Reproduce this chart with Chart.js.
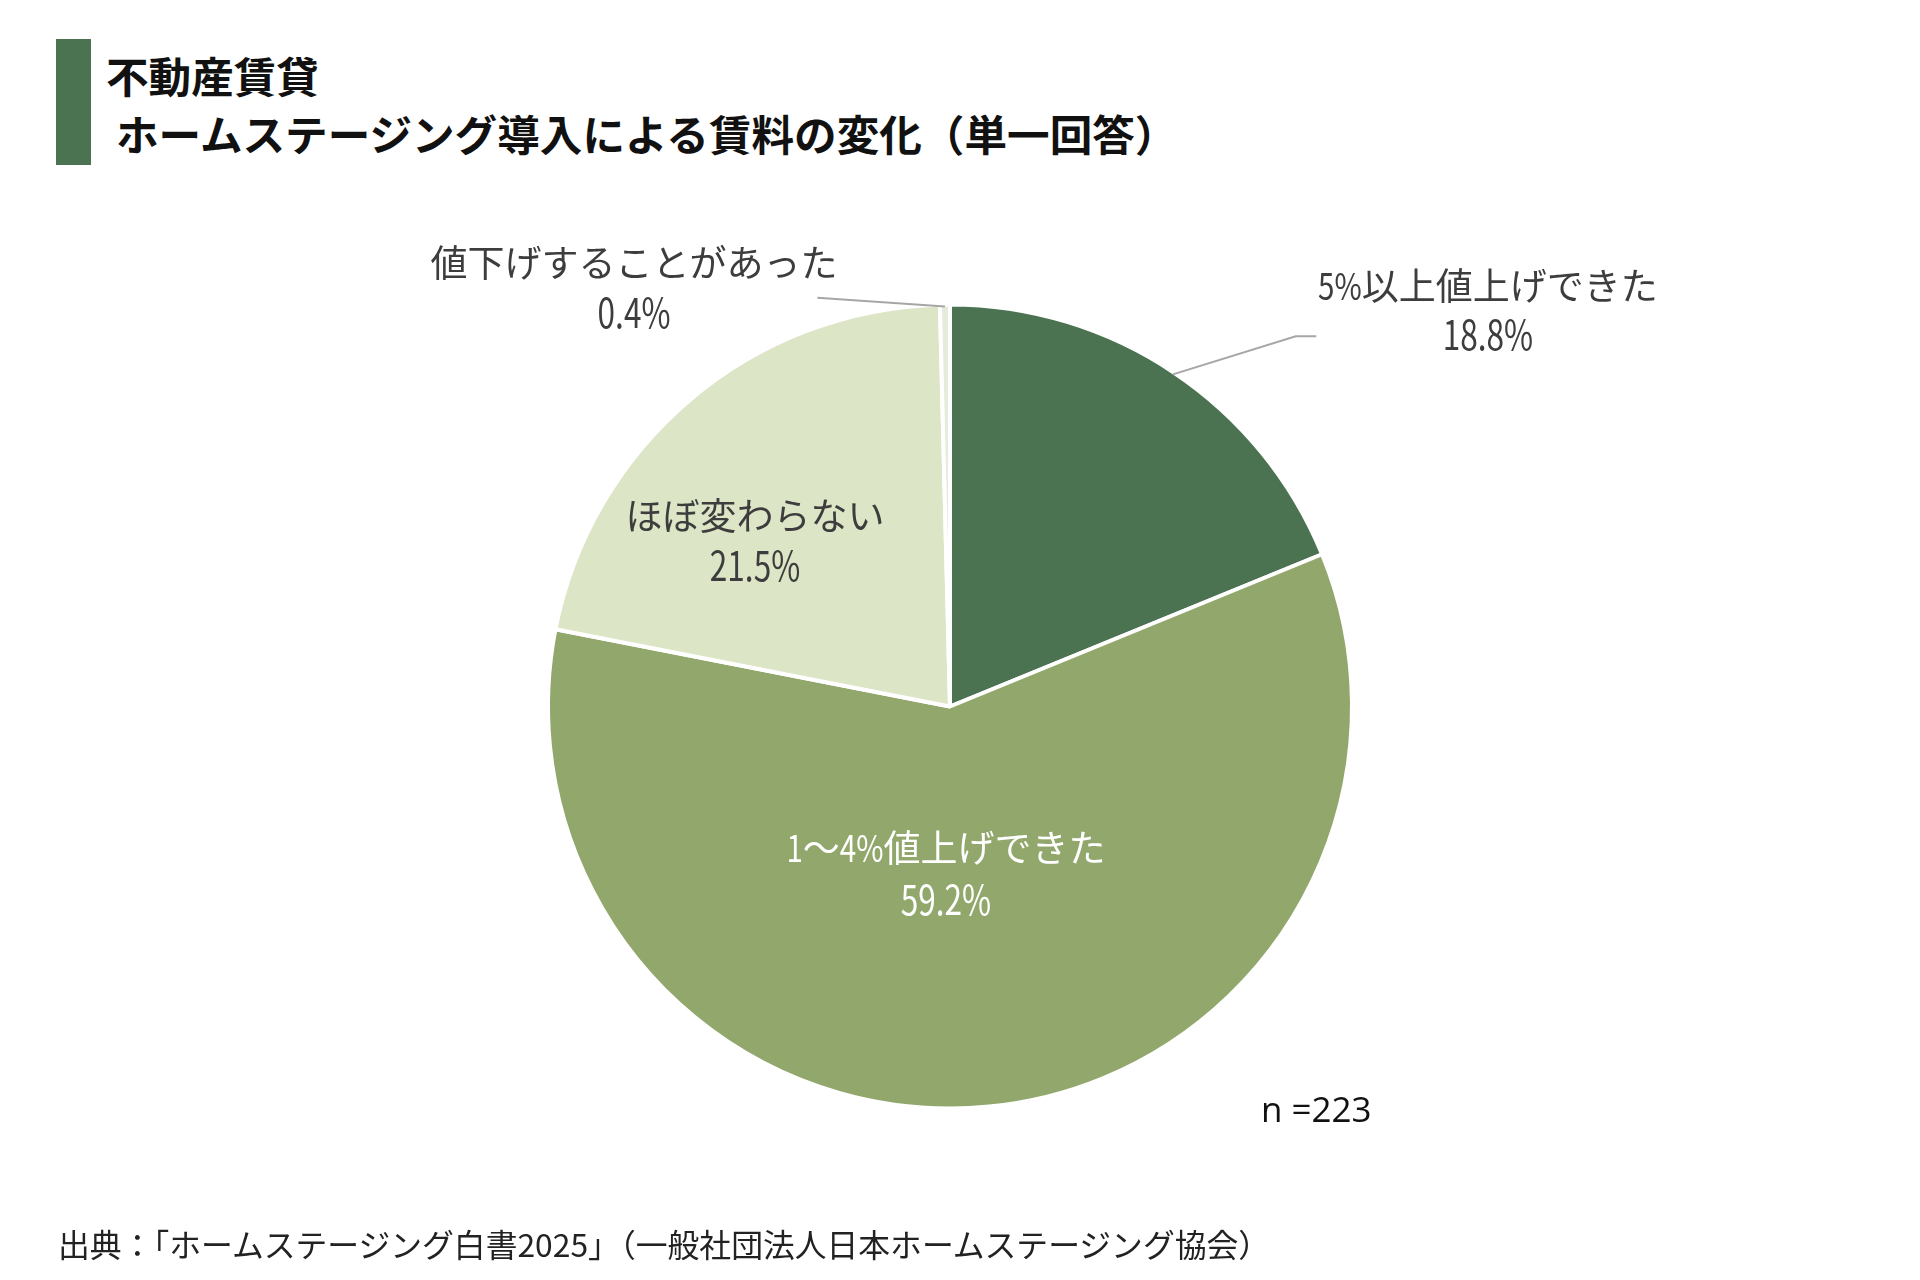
<!DOCTYPE html>
<html lang="ja">
<head>
<meta charset="utf-8">
<script src="https://cdn.jsdelivr.net/npm/chart.js@4/dist/chart.umd.min.js"></script>
<style>
  html, body { margin: 0; padding: 0; background: #ffffff; }
  body { width: 1920px; height: 1280px; position: relative; overflow: hidden; font-family: "Noto Sans CJK JP", "Noto Sans", sans-serif; }
  #chart { position: absolute; left: 0; top: 0; }
  .bar { position: absolute; left: 56px; top: 39px; width: 35px; height: 126px; background: #4b7251; }
  .t1 { position: absolute; left: 106px; top: 49px; font-size: 42.6px; font-weight: 700; color: #111; line-height: 52px; white-space: nowrap; }
  .t2 { position: absolute; left: 116px; top: 107px; font-size: 42.6px; font-weight: 700; color: #111; line-height: 52px; white-space: nowrap; }
  .n { position: absolute; left: 1261px; top: 1085px; font-family: "Open Sans", sans-serif; font-size: 35px; color: #111; white-space: nowrap; }
  .src { position: absolute; left: 58px; top: 1223px; font-size: 31.8px; line-height: 40px; color: #222; white-space: nowrap; }
</style>
</head>
<body>
<div class="bar"></div>
<div class="t1">不動産賃貸</div>
<div class="t2">ホームステージング導入による賃料の変化（単一回答）</div>
<canvas id="chart" width="1920" height="1280"></canvas>
<div class="n">n =223</div>
<div class="src">出典：「ホームステージング白書2025」（一般社団法人日本ホームステージング協会）</div>
<script>
const categories = ["5%以上値上げできた", "1～4%値上げできた", "ほぼ変わらない", "値下げすることがあった"];
const values = [18.8, 59.2, 21.5, 0.4];
const sliceColors = ["#4b7251", "#92a76c", "#dce5c6", "#e6ebdc"];
const labelColors = ["#3d3d3d", "#ffffff", "#3d3d3d", "#3d3d3d"];

// label layout in units of the pie radius, relative to the pie centre
const labelLayout = [
  { dx: 1.338, dy: [-1.045, -0.926], leader: [[0.860, -0.921], [0.911, -0.921]] },
  { dx: -0.01, dy: [0.352, 0.480], leader: null },
  { dx: -0.485, dy: [-0.473, -0.352], leader: null },
  { dx: -0.786, dy: [-1.103, -0.980], leader: [[-0.330, -1.017]] }
];

function drawMixed(ctx, text, cx, cy, asciiScale) {
  const runs = text.match(/[\x20-\x7E]+|[^\x20-\x7E]+/g) || [];
  const parts = runs.map(r => {
    const sc = /^[\x20-\x7E]+$/.test(r) ? asciiScale : 1;
    return { r, sc, w: ctx.measureText(r).width * sc };
  });
  const total = parts.reduce((a, p) => a + p.w, 0);
  let x = cx - total / 2;
  ctx.textAlign = 'left';
  parts.forEach(p => {
    ctx.save();
    ctx.translate(x, cy);
    ctx.scale(p.sc, 1);
    ctx.fillText(p.r, 0, 0);
    ctx.restore();
    x += p.w;
  });
}

const labelPlugin = {
  id: 'sliceLabels',
  afterDatasetsDraw(chart) {
    const ctx = chart.ctx;
    const meta = chart.getDatasetMeta(0);
    ctx.save();
    meta.data.forEach((arc, i) => {
      const p = arc.getProps(['x', 'y', 'startAngle', 'endAngle', 'outerRadius'], true);
      const r = p.outerRadius;
      const L = labelLayout[i];
      if (L.leader) {
        const mid = (p.startAngle + p.endAngle) / 2;
        ctx.beginPath();
        ctx.strokeStyle = '#a6a6a6';
        ctx.lineWidth = 2;
        ctx.moveTo(p.x + Math.cos(mid) * (r - 2), p.y + Math.sin(mid) * (r - 2));
        L.leader.forEach(pt => ctx.lineTo(p.x + pt[0] * r, p.y + pt[1] * r));
        ctx.stroke();
      }
      ctx.fillStyle = labelColors[i];
      ctx.textBaseline = 'middle';
      ctx.font = '400 37px "Noto Sans CJK JP", sans-serif';
      drawMixed(ctx, categories[i], p.x + L.dx * r, p.y + L.dy[0] * r, 0.8);
      ctx.font = '400 41px "Noto Sans CJK JP", sans-serif';
      drawMixed(ctx, values[i].toFixed(1) + '%', p.x + L.dx * r, p.y + L.dy[1] * r, 0.77);
    });
    ctx.restore();
  }
};

new Chart(document.getElementById('chart'), {
  type: 'pie',
  data: {
    labels: categories,
    datasets: [{
      data: values,
      backgroundColor: sliceColors,
      borderColor: '#ffffff',
      borderWidth: 4
    }]
  },
  options: {
    responsive: false,
    devicePixelRatio: 1,
    animation: false,
    radius: 402,
    layout: { padding: { top: 290, bottom: 157, left: 90, right: 110 } },
    plugins: { legend: { display: false }, tooltip: { enabled: false }, title: { display: false } }
  },
  plugins: [labelPlugin]
});
</script>
</body>
</html>
